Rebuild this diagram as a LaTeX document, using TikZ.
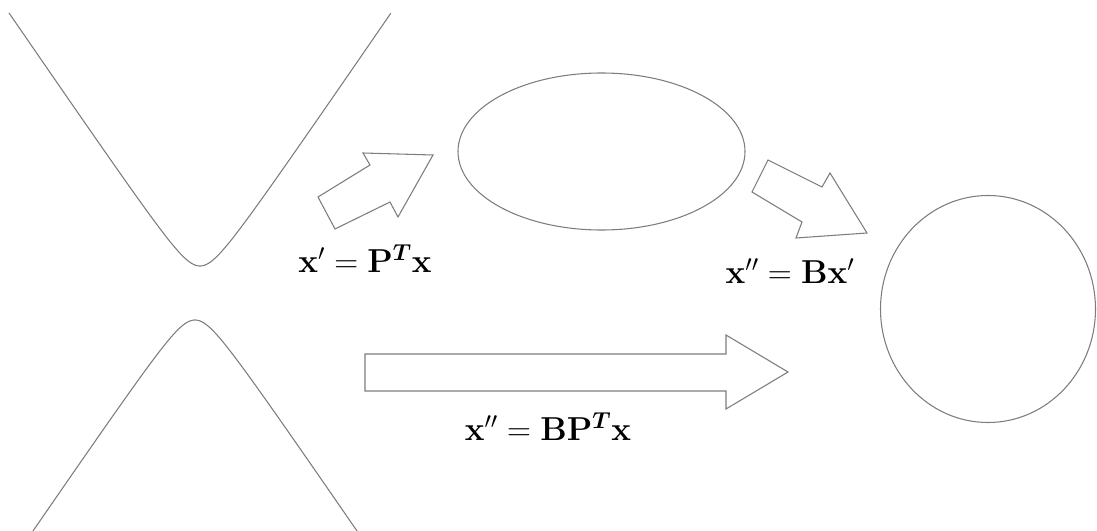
\documentclass[tikz,border=0pt]{standalone}
\usepackage{amsmath}
\usepackage{bm}
\usetikzlibrary{shapes.geometric}

\definecolor{shapeGray}{RGB}{125,125,125}
\tikzset{every picture/.style={line width=0.75pt}}
\tikzset{
outline/.style={draw=shapeGray, line width=0.8pt},
blockarrow/.style={draw=shapeGray, line width=0.8pt, line join=miter, fill=white},
formula/.style={inner sep=0.75pt, font=\fontsize{24}{28}\selectfont}}

\begin{document}
\begin{tikzpicture}[x=0.75pt,y=0.75pt,yscale=-1,xscale=1]
\useasboundingbox (0,0) rectangle (1097,531);

%Hyperbola upper branch
\draw [outline] plot [domain=-3.03:3.03, samples=150, variable=\t] ({200+18.5*sinh(\t)},{293-27*cosh(\t)});
%Hyperbola lower branch
\draw [outline] plot [domain=-2.87:2.87, samples=150, variable=\t] ({195+18.5*sinh(\t)},{293+27*cosh(\t)});

%Shape: Ellipse
\node (ellipseP) [ellipse, outline, minimum width=287*0.75pt, minimum height=157*0.75pt, inner sep=0pt] at (601.5,151.5) {};
%Shape: Circle
\node (circleB) [ellipse, outline, minimum width=215*0.75pt, minimum height=227*0.75pt, inner sep=0pt] at (988,309) {};

%Block Arrow up right
\draw [blockarrow] (433,155) -- (363,153) -- (370,165) -- (318,197) -- (335,229) -- (390,202) -- (398,217) -- cycle ;
%Block Arrow down right
\draw [blockarrow] (867,233) -- (830,173) -- (822,187) -- (768,160) -- (752,192) -- (802,222) -- (796,238) -- cycle ;
%Block Arrow right
\draw [blockarrow] (788,372) -- (726,335) -- (726,354) -- (365,354) -- (365,391) -- (726,391) -- (726,409) -- cycle ;

% Text Node
\node (lblPT) [formula] at (365,259) {$\mathbf{x}' = \mathbf{P}^{\bm{T}}\mathbf{x}$};
% Text Node
\node (lblB) [formula] at (790,271) {$\mathbf{x}'' = \mathbf{B}\mathbf{x}'$};
% Text Node
\node (lblBPT) [formula] at (548,427) {$\mathbf{x}'' = \mathbf{B}\mathbf{P}^{\bm{T}}\mathbf{x}$};

\end{tikzpicture}
\end{document}
